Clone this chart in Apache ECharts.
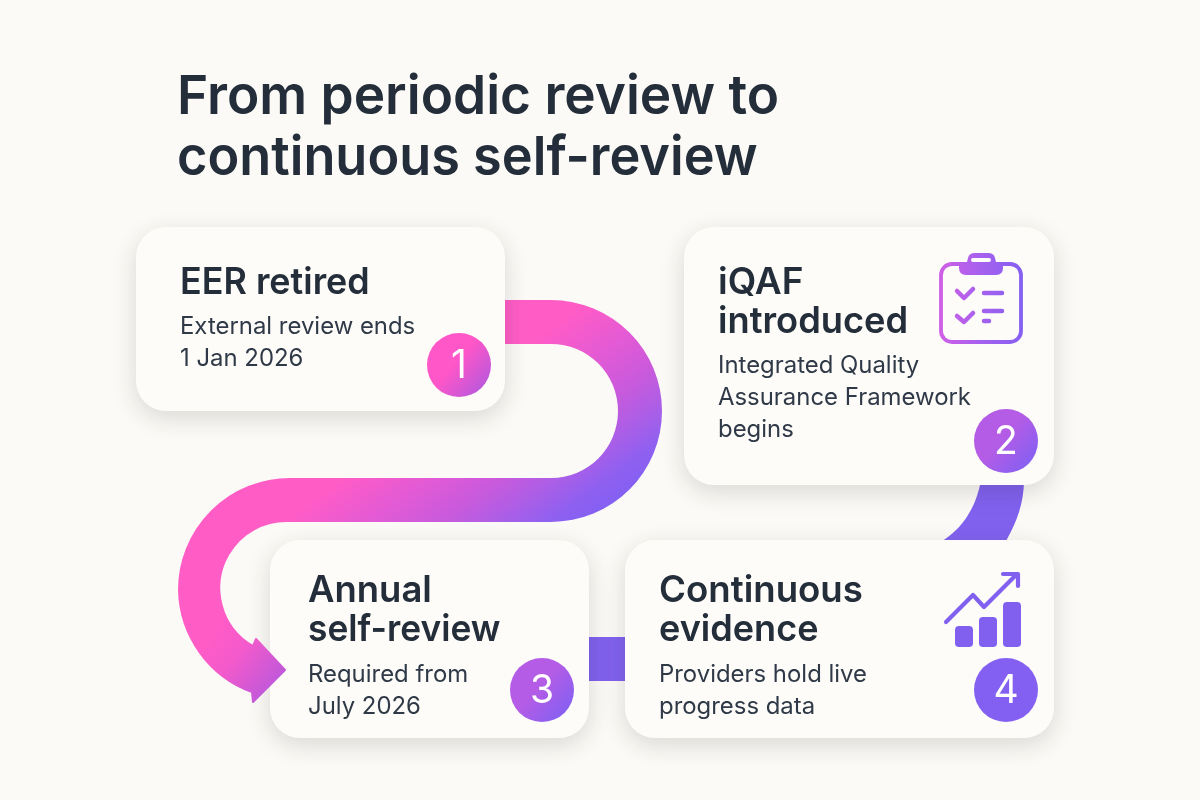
<!DOCTYPE html>
<html>
<head>
<meta charset="utf-8">
<style>html,body{margin:0;padding:0;background:#fcfaf6}#c{width:1200px;height:800px}</style>
<script src="https://cdn.jsdelivr.net/npm/echarts@6/dist/echarts.min.js"></script>
</head>
<body>
<div id="c"></div>
<script>
const titleLines = ['From periodic review to', 'continuous self-review'];
const stepNumbers = ['1', '2', '3', '4'];
const cardHeadings = [['EER retired'], ['iQAF', 'introduced'], ['Annual', 'self-review'], ['Continuous', 'evidence']];
const cardBodies = [
  ['External review ends', '1 Jan 2026'],
  ['Integrated Quality', 'Assurance Framework', 'begins'],
  ['Required from', 'July 2026'],
  ['Providers hold live', 'progress data']
];

const FONT = 'Inter, "Noto Sans", sans-serif';
const INK = '#242d3a', BODY = '#2f3947', PINK = '#ff56c8', PURPLE = '#8460f2';
const grad = (x, y, x2, y2, stops) => ({type:'linear', x, y, x2, y2, global:true,
  colorStops: stops.map(s => ({offset:s[0], color:s[1]}))});
const layouts = [
  {x:136,y:227,w:369,h:184,tx:180,hy:[283],hs:[0.97],by:[327,359],cx:459,cy:365,g:[PINK,'#b858dc']},
  {x:684,y:227,w:370,h:258,tx:718,hy:[283,322],hs:[1,0.98],by:[366,398,430],cx:1006,cy:441,g:['#b45ce6','#8460f2']},
  {x:270,y:540,w:319,h:198,tx:308,hy:[591,630],hs:[0.985,0.955],by:[675,707],cx:542,cy:690,g:['#b45ce6','#8460f2']},
  {x:625,y:540,w:429,h:198,tx:659,hy:[591,630],hs:[0.99,0.975],by:[675,707],cx:1006,cy:690,g:[PURPLE,PURPLE]}
];

const els = [];
let shapeId = 0;
const addPath = (d, z, style) => {
  const name = 'p' + (shapeId++);
  echarts.graphic.registerShape(name, echarts.graphic.extendPath(d, {}));
  els.push({type:name, z, style});
};
const txt = (text, x, y, size, weight, fill, align, z, sx) => els.push({type:'text', z:z||10, x, y, scaleX:sx||1,
  style:{text, x:0, y:0, fontFamily:FONT, fontSize:size, fontWeight:weight, fill, align:align||'left', verticalAlign:'middle'}});

// title
titleLines.forEach((t,i) => txt(t, 177, 98+i*61, 54, 600, INK, 'left', 10, i ? 0.968 : 0.984));

// connectors behind the cards
const bandGrad = grad(500,310,630,490,[[0,'#ff5cc6'],[0.2,'#ff5cc6'],[0.45,'#e05ad6'],[0.62,'#c85adc'],[0.76,'#ad5ee6'],[0.9,'#8f60f0'],[1,'#8460f2']]);
addPath('M500,300 L551,300 A111,111 0 0 1 551,522 L288,522 L288,478 L551,478 A67,67 0 0 0 551,344 L500,344 Z', 1, {fill:bandGrad});
addPath('M981,480 C976,508 962,529 942,541 L1006,541 C1017,522 1024,502 1024,480 Z', 1, {fill:'#8060ee'});
els.push({type:'rect', z:1, shape:{x:585,y:637,width:44,height:44}, style:{fill:'#8060ee'}});

// cards
layouts.forEach((c,i) => {
  els.push({type:'rect', z:3, shape:{x:c.x,y:c.y,width:c.w,height:c.h,r:30},
    style:{fill:'#fdfcf8', shadowBlur:24, shadowOffsetY:7, shadowColor:'rgba(40,35,30,0.16)'}});
  cardHeadings[i].forEach((t,k) => txt(t, c.tx, c.hy[k], 37, 600, INK, 'left', 10, c.hs[k]));
  cardBodies[i].forEach((t,k) => txt(t, c.tx, c.by[k], 24, 400, BODY, 'left', 10, 0.996));
  els.push({type:'circle', z:6, shape:{cx:c.cx,cy:c.cy,r:32},
    style:{fill:grad(c.cx-24,c.cy-20,c.cx+26,c.cy+24,[[0,c.g[0]],[0.4,c.g[0]],[1,c.g[1]]])}});
  txt(stepNumbers[i], c.cx, c.cy+1, 39, 400, '#ffffff', 'center', 7);
});

// arrow over card 3
const arrowGrad = grad(222,620,286,672,[[0,'#ff5cc6'],[0.4,'#f45acb'],[1,'#c058da']]);
addPath('M290,479 A111,111 0 0 0 179,590 A111,111 0 0 0 252,692 L253,702 L285,670 L256,639 L253,646 A67,67 0 0 1 290,521 Z', 5,
  {fill:arrowGrad, stroke:arrowGrad, lineWidth:2, lineJoin:'round'});

// clipboard icon
const cg = grad(939,0,1023,0,[[0,'#d05fe6'],[0.5,'#a660ee'],[1,'#8460f2']]);
const ln = (d, w) => addPath(d, 6, {fill:'none', stroke:cg, lineWidth:w||4.5, lineCap:'round', lineJoin:'round'});
els.push({type:'rect', z:6, shape:{x:941,y:264,width:80,height:78,r:11}, style:{fill:'none',stroke:cg,lineWidth:3.8}});
addPath('M959,262 L967,262 L968,258 Q969,253 975,253 L988,253 Q994,253 995,258 L996,262 L1003,262 L1003,268 Q1003,275 996,275 L966,275 Q959,275 959,268 Z M973,258 Q971,258 971,260 Q971,262 973,262 L989,262 Q991,262 991,260 Q991,258 989,258 Z', 6, {fill:cg});
ln('M957,291 L964,298 L973,289'); ln('M957,316 L964,322 L973,313');
ln('M984,293 L1002,293'); ln('M984,311 L1002,311'); ln('M984,321 L989,321');

// growth icon
const pg = '#8160f0';
[[955,626,18,21],[979,617,18,30],[1003,602,18,45]].forEach(b =>
  els.push({type:'rect', z:6, shape:{x:b[0],y:b[1],width:b[2],height:b[3],r:4}, style:{fill:pg}}));
addPath('M946,622 L973,595 L984,607 L1016,575 M1003,574 L1018,574 L1018,586', 6,
  {fill:'none',stroke:pg,lineWidth:4.2,lineCap:'round',lineJoin:'round'});

const chart = echarts.init(document.getElementById('c'), null, {width:1200, height:800, renderer:'canvas'});
chart.setOption({backgroundColor:'#fcfaf6', animation:false, graphic:{elements:els}});
</script>
</body>
</html>
